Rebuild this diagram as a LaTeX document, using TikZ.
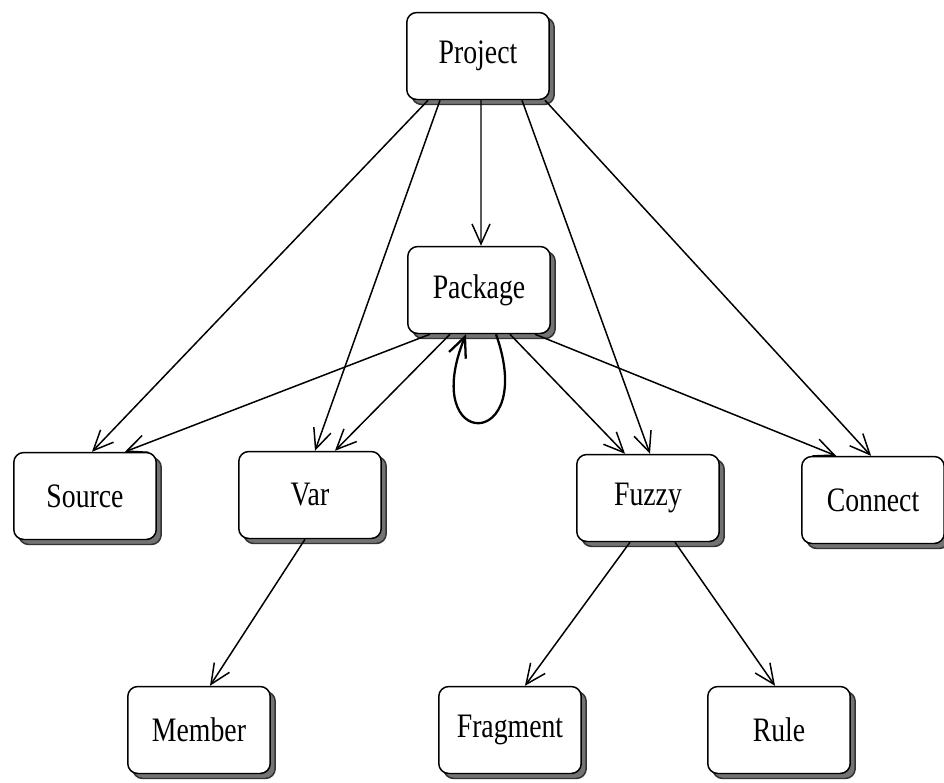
\documentclass[tikz,border=0pt]{standalone}
\usepackage{fontspec}
\setmainfont{Liberation Serif}[FakeStretch=0.81]
\usepackage{tikz}
\usetikzlibrary{arrows.meta,shadows,calc}

\begin{document}
\begin{tikzpicture}[x=0.02cm, y=-0.02cm,
            box/.style={draw, line width=0.85pt, rounded corners=0.2cm, fill=white,
                        minimum width=2.85cm, minimum height=1.74cm, font=\fontsize{19.5}{22}\selectfont,
                        copy shadow={shadow xshift=0.1cm, shadow yshift=-0.1cm, fill=black!55, draw=black!80}},
            link/.style={draw, line width=0.85pt, -{Straight Barb[length=0.4cm, width=0.36cm]}}]
        \useasboundingbox (0,0) rectangle (944,782);
        % boxes
        \node[box] (proj) at (478,56) {Project};
        \node[box] (pkg) at (479,290) {Package};
        \node[box] (src) at (85,496) {Source};
        \node[box] (var) at (310,495) {Var};
        \node[box] (fuzzy) at (648,498) {Fuzzy};
        \node[box] (conn) at (873,500) {Connect};
        \node[box] (member) at (199,730) {Member};
        \node[box] (frag) at (510,730) {Fragment};
        \node[box] (rule) at (779,730) {Rule};

        % from project
        \draw[link] ([xshift=-1cm]proj.south) -- ([xshift=0.14cm]src.north);
        \draw[link] ([xshift=-0.76cm]proj.south) -- ([xshift=0.1cm]var.north);
        \draw[link] ([xshift=0.06cm]proj.south) -- ([xshift=0.04cm]pkg.north);
        \draw[link] ([xshift=0.88cm]proj.south) -- ([xshift=0.04cm]fuzzy.north);
        \draw[link] ([xshift=1.34cm]proj.south) -- ([xshift=-0.04cm]conn.north);

        % from package
        \draw[link] ([xshift=-0.98cm]pkg.south) -- ([xshift=0.8cm]src.north);
        \draw[link] ([xshift=-0.58cm]pkg.south) -- ([xshift=0.5cm]var.north);
        \draw[link] ([xshift=0.62cm]pkg.south) -- ([xshift=-0.46cm]fuzzy.north);
        \draw[link] ([xshift=1.12cm]pkg.south) -- ([xshift=-0.74cm]conn.north);
        \draw[link, line width=1.3pt] ([xshift=0.34cm]pkg.south) .. controls +(42,118) and +(-48,118) .. ([xshift=-0.26cm]pkg.south);

        % second level
        \draw[link] ([xshift=-0.1cm]var.south) -- ([xshift=0.22cm]member.north);
        \draw[link] ([xshift=-0.36cm]fuzzy.south) -- ([xshift=0.3cm]frag.north);
        \draw[link] ([xshift=0.54cm]fuzzy.south) -- ([xshift=-0.08cm]rule.north);
\end{tikzpicture}
\end{document}
